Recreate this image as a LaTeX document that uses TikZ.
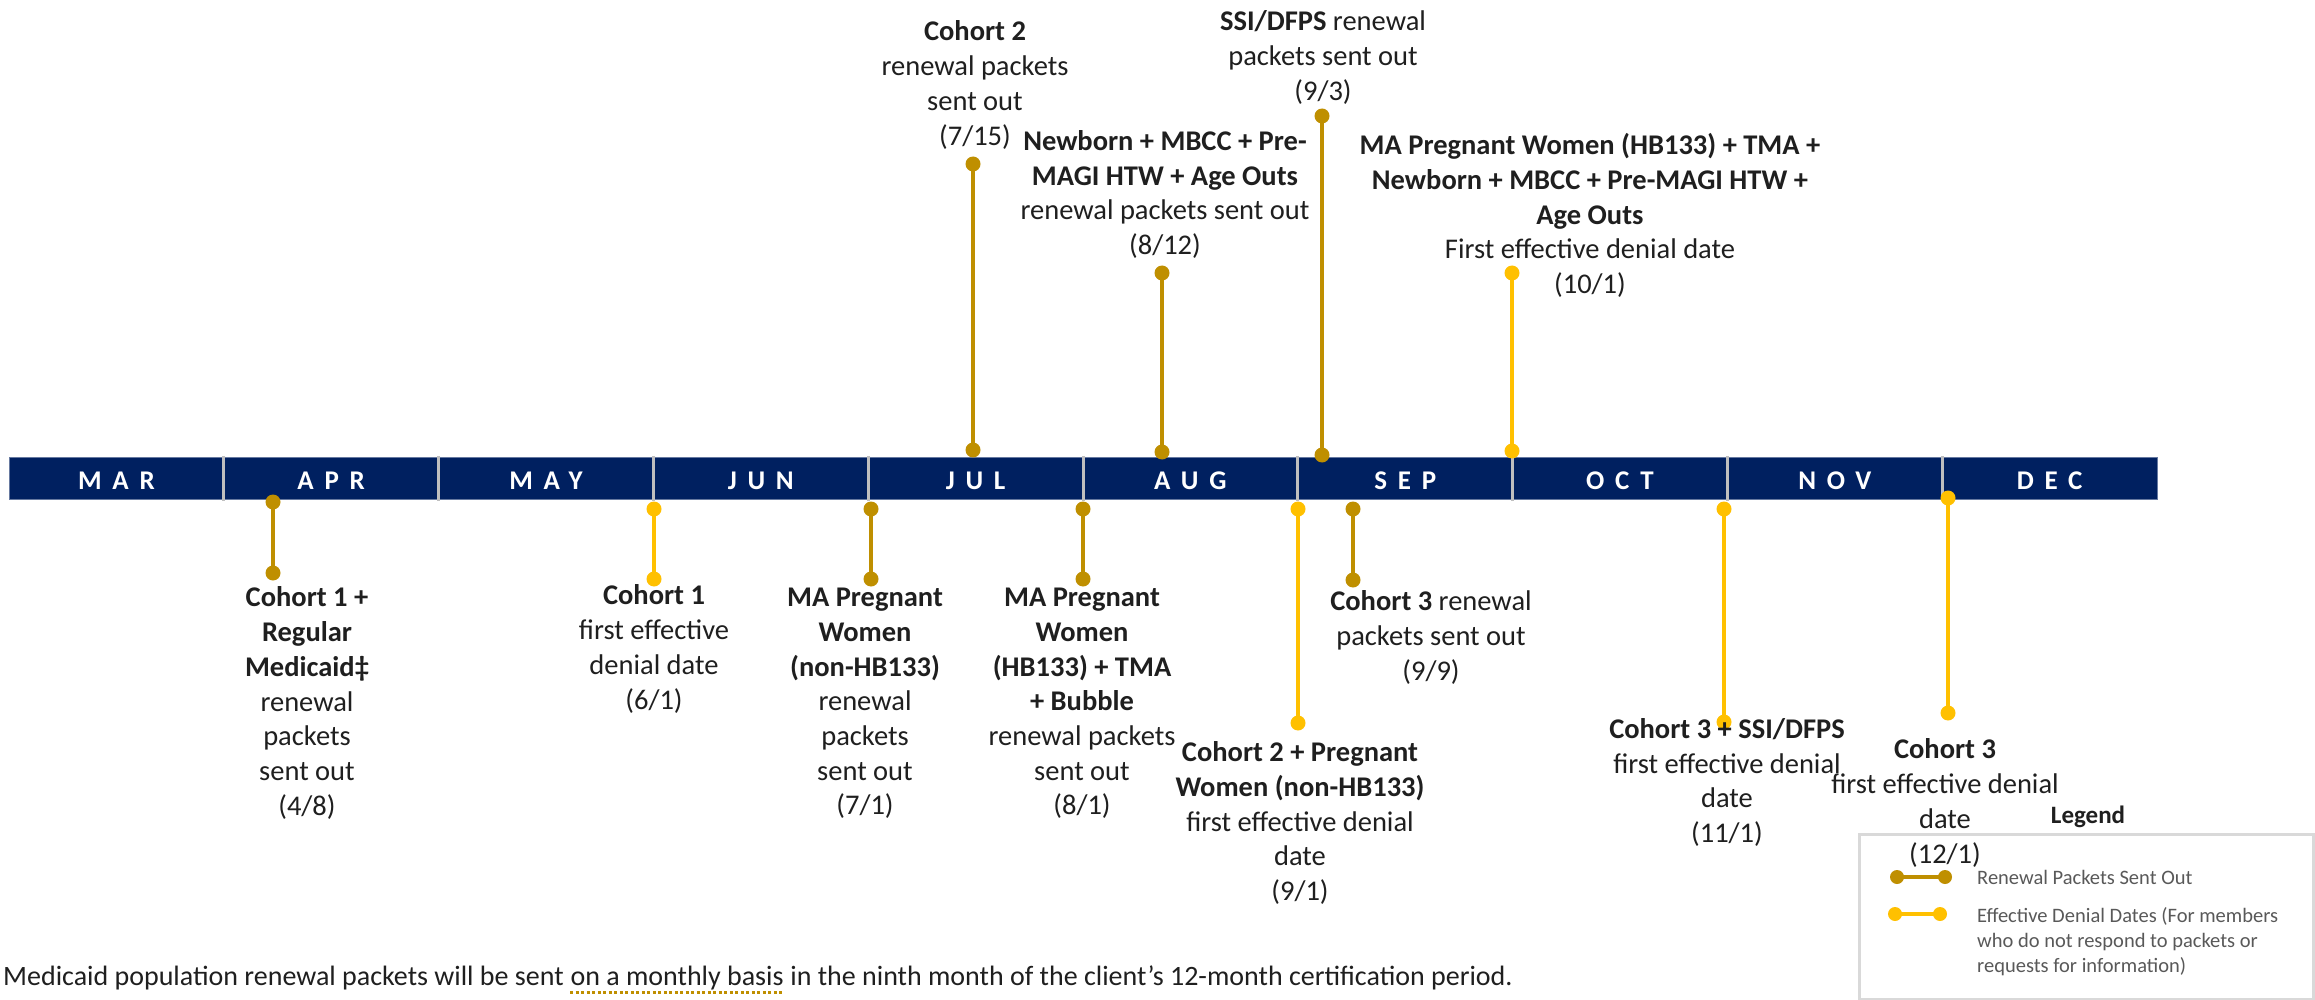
\documentclass[tikz,border=0pt]{standalone}
\usepackage{fontspec}
\setmainfont{Carlito}
\definecolor{navy}{HTML}{002060}
\definecolor{gold}{HTML}{BF8F00}
\definecolor{amber}{HTML}{FFC000}
\definecolor{divgray}{HTML}{BFBFBF}
\definecolor{legtext}{HTML}{595959}
\definecolor{legline}{HTML}{D9D9D9}
\definecolor{ink}{HTML}{1F1F1F}
\newcommand\lblfont{\fontsize{28.5}{34.7}\selectfont}
\begin{document}
\begin{tikzpicture}[x=1pt,y=-1pt,
  lbl/.style={align=center, inner sep=0pt, font=\lblfont, text=ink},
  monthlbl/.style={anchor=base, inner sep=0pt, text=white,
    font=\fontsize{27}{30}\selectfont\bfseries\addfontfeature{LetterSpace=40}},
  divider/.style={draw=divgray, line width=3pt},
  legtxt/.style={inner sep=0pt, text=legtext, align=left, font=\fontsize{20.5}{25}\selectfont},
  foot/.style={inner sep=0pt, anchor=base west, font=\fontsize{28}{30}\selectfont, text=ink},
]
\useasboundingbox (0,0) rectangle (2315,1000);
\fill[white] (0,0) rectangle (2315,1000);

% timeline bar
\node[fill=navy, draw=navy!60, line width=1pt, minimum width=2148pt, minimum height=42pt,
  inner sep=0pt, anchor=west] (bar) at (9,478) {};
\foreach \i in {1,...,9} {
  \pgfmathsetmacro\xx{9+214.8*\i}
  \draw[divider] (\xx,456) -- (\xx,501);
}
\foreach \m [count=\i from 0] in {MAR,APR,MAY,JUN,JUL,AUG,SEP,OCT,NOV,DEC} {
  \pgfmathsetmacro\xx{9+214.8*(\i+0.5)}
  \node[monthlbl] (m\m) at (\xx,489) {\m};
}

% stems
\foreach \n/\x/\ya/\yb/\c in {
  cTwoR/973/164/450/gold, nbR/1162/273/452/gold, ssiR/1322/116/455/gold, maD/1512/273/451/amber,
  cOneR/273/502/573/gold, cOneD/654/509/579/amber, maOne/871/509/579/gold, maTwo/1083/509/579/gold,
  cTwoD/1298/509/723/amber, cThreeR/1353/509/580/gold, cThreeS/1724/509/722/amber, cThreeD/1948/498/713/amber} {
  \coordinate (\n a) at (\x,\ya);
  \coordinate (\n b) at (\x,\yb);
  \draw[\c, line width=4.5pt] (\n a) -- (\n b);
  \fill[\c] (\n a) circle (7.5pt) (\n b) circle (7.5pt);
}

% labels above
\node[lbl] (tCTwoR) at (975,85) {\textbf{Cohort 2}\\renewal packets\\sent out\\(7/15)};
\node[lbl] (tNbR) at (1165,194.5) {\textbf{Newborn + MBCC + Pre-}\\\textbf{MAGI HTW + Age Outs}\\renewal packets sent out\\(8/12)};
\node[lbl] (tSsiR) at (1323,57.5) {\textbf{SSI/DFPS} renewal\\packets sent out\\(9/3)};
\node[lbl] (tMaD) at (1590,215.5) {\textbf{MA Pregnant Women (HB133) + TMA +}\\\textbf{Newborn + MBCC + Pre-MAGI HTW +}\\\textbf{Age Outs}\\First effective denial date\\(10/1)};

% labels below
\node[lbl] (tCOneR) at (307,703) {\textbf{Cohort 1 +}\\\textbf{Regular}\\\textbf{Medicaid‡}\\renewal\\packets\\sent out\\(4/8)};
\node[lbl] (tCOneD) at (654,649) {\textbf{Cohort 1}\\first effective\\denial date\\(6/1)};
\node[lbl] (tMaOne) at (865,703.5) {\textbf{MA Pregnant}\\\textbf{Women}\\\textbf{(non-HB133)}\\renewal\\packets\\sent out\\(7/1)};
\node[lbl] (tMaTwo) at (1082,703.5) {\textbf{MA Pregnant}\\\textbf{Women}\\\textbf{(HB133) + TMA}\\\textbf{+ Bubble}\\renewal packets\\sent out\\(8/1)};
\node[lbl] (tCTwoD) at (1300,823) {\textbf{Cohort 2 + Pregnant}\\\textbf{Women (non-HB133)}\\first effective denial\\date\\(9/1)};
\node[lbl] (tCThreeR) at (1431,637.5) {\textbf{Cohort 3} renewal\\packets sent out\\(9/9)};
\node[lbl] (tCThreeS) at (1727,782.5) {\textbf{Cohort 3 + SSI/DFPS}\\first effective denial\\date\\(11/1)};
\node[lbl] (tCThreeD) at (1945,803) {\textbf{Cohort 3}\\first effective denial\\date\\(12/1)};

% legend
\node[inner sep=0pt, font=\fontsize{25}{28}\selectfont\bfseries, text=ink] (legtitle) at (2088,817) {Legend};
\node[draw=legline, line width=3pt, minimum width=454pt, minimum height=165pt, inner sep=0pt,
  anchor=north west] (legbox) at (1858,833) {};
\coordinate (lga) at (1897,877); \coordinate (lgb) at (1945,877);
\draw[gold, line width=4.5pt] (lga) -- (lgb);
\fill[gold] (lga) circle (7pt) (lgb) circle (7pt);
\coordinate (lya) at (1895,914); \coordinate (lyb) at (1940,914);
\draw[amber, line width=4.5pt] (lya) -- (lyb);
\fill[amber] (lya) circle (7pt) (lyb) circle (7pt);
\node[legtxt, anchor=west] (legR) at (1977,877) {Renewal Packets Sent Out};
\node[legtxt, anchor=west] (legD) at (1977,942) {Effective Denial Dates (For members\\who do not respond to packets or\\requests for information)};

% footnote
\node[foot] (fnA) at (3,985) {Medicaid population renewal packets will be sent~\kern0pt};
\node[foot] (fnB) at (fnA.base east) {on a monthly basis};
\node[foot] (fnC) at (fnB.base east) {~in the ninth month of the client’s 12-month certification period.};
\draw[gold, line width=3pt, dash pattern=on 3pt off 2.5pt] ([yshift=-7pt]fnB.base west) -- ([yshift=-7pt]fnB.base east);
\end{tikzpicture}
\end{document}
